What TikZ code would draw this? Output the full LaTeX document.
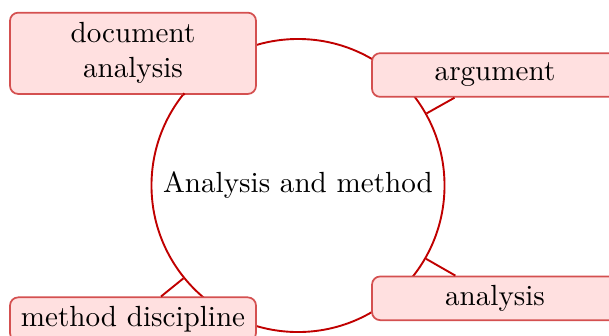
\documentclass[tikz,border=0pt]{standalone}
\usetikzlibrary{positioning}
\definecolor{ringred}{RGB}{192,0,0}
\definecolor{boxfill}{RGB}{255,224,224}
\definecolor{boxline}{RGB}{212,80,80}
\begin{document}
\begin{tikzpicture}[x=0.3433pt,y=-0.3433pt,
  hub/.style={circle,draw=ringred,line width=0.65pt,minimum size=100.6pt,inner sep=0pt},
  topic/.style={rectangle,rounded corners=2.8pt,draw=boxline,fill=boxfill,line width=0.6pt,
    minimum width=84.45pt,minimum height=15pt,inner sep=0pt,align=center},
  conn/.style={draw=ringred,line width=0.65pt}]
\useasboundingbox (0,0) rectangle (609,335);
\clip (0,0) rectangle (609,335);
\node[hub] (c) at (298,185.5) {Analysis and method};
\node[topic,minimum height=27.9pt] (doc) at (133,53.3) {document\\analysis};
\node[topic] (arg) at (495,75) {argument};
\node[topic] (ana) at (495,298.3) {analysis};
\node[topic] (met) at (133,319.2) {method discipline};
\draw[conn] (c) -- (arg);
\draw[conn] (c) -- (ana);
\draw[conn] (c) -- (met);
\draw[conn] (c) -- (doc);
\end{tikzpicture}
\end{document}
